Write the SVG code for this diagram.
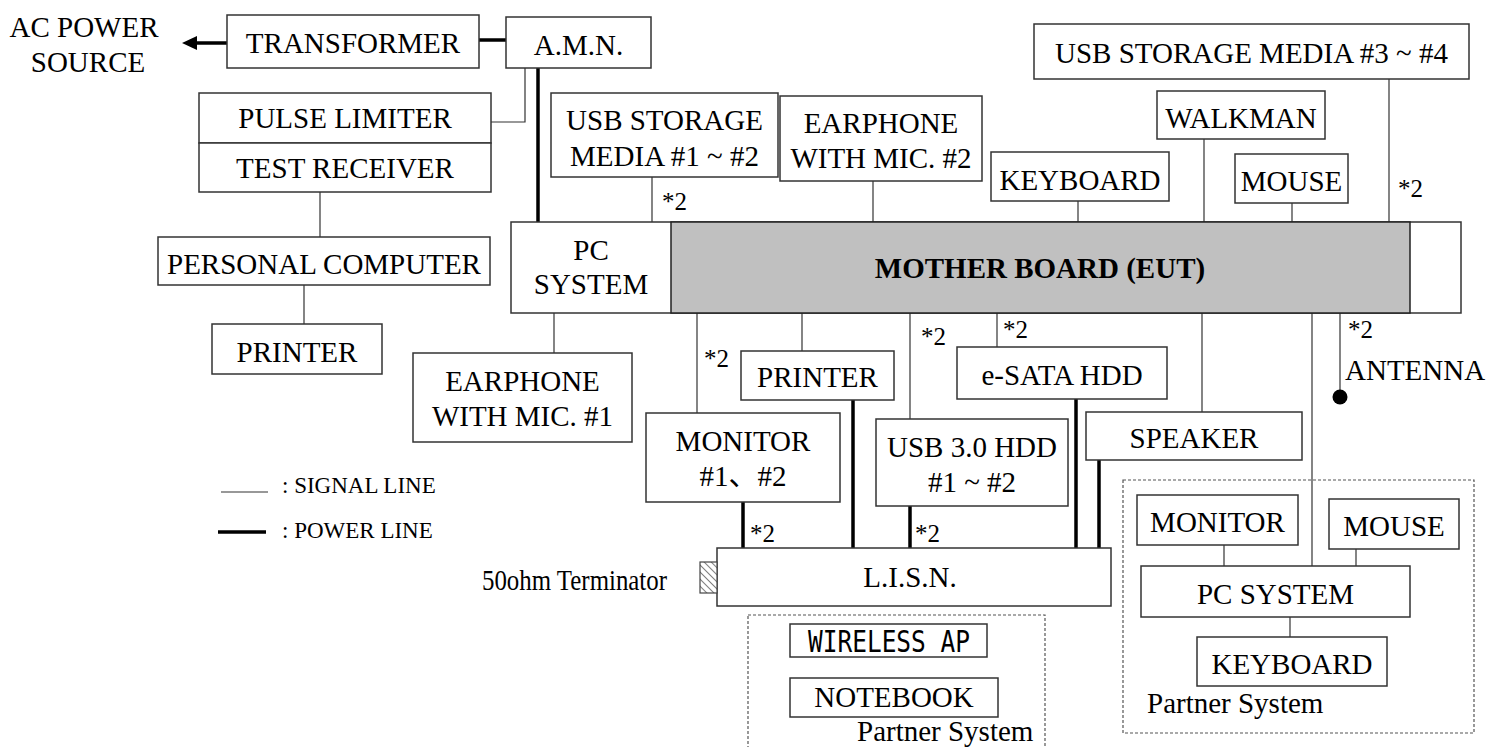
<svg xmlns="http://www.w3.org/2000/svg" width="1488" height="747" viewBox="0 0 1488 747">
<style>
text{font-family:"Liberation Serif","Noto Sans CJK SC",serif;font-size:29px;fill:#000}
.c{text-anchor:middle}
.b{fill:#fff;stroke:#333;stroke-width:1.5}
.g{fill:#c0c0c0;stroke:#222;stroke-width:1.5}
.s{stroke:#333;stroke-width:1.2;fill:none}
.p{stroke:#000;stroke-width:3.5;fill:none}
.d{fill:none;stroke:#555;stroke-width:1.2;stroke-dasharray:3,2}
.n{font-size:25px}
.l{font-size:23px}
.m{font-family:"DejaVu Sans Mono","Liberation Mono",monospace;font-size:30px}
</style>
<defs>
<pattern id="hatch" width="5" height="5" patternUnits="userSpaceOnUse" patternTransform="rotate(-45)">
<rect width="5" height="5" fill="#fff"/>
<line x1="0" y1="0" x2="0" y2="5" stroke="#555" stroke-width="1.5"/>
</pattern>
</defs>
<g id="connectors">
<polyline class="s" points="491,122 525,122 525,68"/>
<line class="s" x1="320" y1="192" x2="320" y2="237"/>
<line class="s" x1="304" y1="285" x2="304" y2="324"/>
<line class="s" x1="652" y1="177" x2="652" y2="222"/>
<line class="s" x1="873" y1="181" x2="873" y2="222"/>
<line class="s" x1="1078" y1="201" x2="1078" y2="222"/>
<line class="s" x1="1204" y1="139" x2="1204" y2="222"/>
<line class="s" x1="1292" y1="203" x2="1292" y2="222"/>
<line class="s" x1="1389" y1="79" x2="1389" y2="222"/>
<line class="s" x1="554" y1="313" x2="554" y2="353"/>
<line class="s" x1="697" y1="313" x2="697" y2="413"/>
<line class="s" x1="802" y1="313" x2="802" y2="351"/>
<line class="s" x1="910" y1="313" x2="910" y2="419"/>
<line class="s" x1="997" y1="313" x2="997" y2="347"/>
<line class="s" x1="1202" y1="313" x2="1202" y2="412"/>
<line class="s" x1="1312" y1="313" x2="1312" y2="566"/>
<line class="s" x1="1340" y1="313" x2="1340" y2="397" stroke="#999"/>
<circle cx="1340" cy="397" r="7.5" fill="#000"/>
<line class="s" x1="1224" y1="545" x2="1224" y2="566"/>
<line class="s" x1="1356" y1="549" x2="1356" y2="566"/>
<line class="s" x1="1290" y1="617" x2="1290" y2="637"/>
<line class="p" x1="479" y1="40" x2="506" y2="40"/>
<line class="p" x1="538" y1="68" x2="538" y2="222"/>
<line class="p" x1="743" y1="502" x2="743" y2="548"/>
<line class="p" x1="853" y1="400" x2="853" y2="548"/>
<line class="p" x1="910" y1="506" x2="910" y2="548"/>
<line class="p" x1="1076" y1="399" x2="1076" y2="548"/>
<line class="p" x1="1099" y1="460" x2="1099" y2="548"/>
<line class="p" x1="227" y1="43" x2="194" y2="43"/>
<polygon points="182,43 197,36 197,50" fill="#000"/>
</g>
<g id="ac-power"><text class="c" x="84" y="37">AC POWER</text><text class="c" x="88" y="72">SOURCE</text></g>
<g id="transformer"><rect class="b" x="227" y="15" width="252" height="53"/><text class="c" x="353" y="53">TRANSFORMER</text></g>
<g id="amn"><rect class="b" x="506" y="17" width="145" height="51"/><text class="c" x="578.5" y="55">A.M.N.</text></g>
<g id="pulse-limiter"><rect class="b" x="199" y="93" width="292" height="50"/><text class="c" x="345" y="128">PULSE LIMITER</text></g>
<g id="test-receiver"><rect class="b" x="199" y="143" width="292" height="49"/><text class="c" x="345" y="178">TEST RECEIVER</text></g>
<g id="personal-computer"><rect class="b" x="158" y="237" width="332" height="48"/><text class="c" x="324" y="274">PERSONAL COMPUTER</text></g>
<g id="printer-left"><rect class="b" x="212" y="324" width="170" height="50"/><text class="c" x="297" y="362">PRINTER</text></g>
<g id="usb-storage-1-2"><rect class="b" x="551" y="93" width="227" height="84"/><text class="c" x="664.5" y="130">USB STORAGE</text><text class="c" x="664.5" y="166">MEDIA #1 ~ #2</text></g>
<g id="earphone-2"><rect class="b" x="780" y="96" width="202" height="85"/><text class="c" x="881" y="133">EARPHONE</text><text class="c" x="881" y="168">WITH MIC. #2</text></g>
<g id="keyboard"><rect class="b" x="991" y="152" width="178" height="49"/><text class="c" x="1080" y="190">KEYBOARD</text></g>
<g id="walkman"><rect class="b" x="1157" y="91" width="168" height="48"/><text class="c" x="1241" y="128">WALKMAN</text></g>
<g id="mouse"><rect class="b" x="1235" y="154" width="113" height="49"/><text class="c" x="1291.5" y="191">MOUSE</text></g>
<g id="usb-storage-3-4"><rect class="b" x="1034" y="24" width="435" height="55"/><text class="c" x="1251.5" y="63">USB STORAGE MEDIA #3 ~ #4</text></g>
<g id="pc-system"><rect class="b" x="511" y="222" width="950" height="91"/><text class="c" x="591" y="260">PC</text><text class="c" x="591" y="294">SYSTEM</text></g>
<g id="mother-board"><rect class="g" x="671" y="222" width="739" height="91"/><text class="c" x="1040" y="278" font-weight="bold">MOTHER BOARD (EUT)</text></g>
<g id="earphone-1"><rect class="b" x="413" y="353" width="219" height="89"/><text class="c" x="522.5" y="391">EARPHONE</text><text class="c" x="522.5" y="426">WITH MIC. #1</text></g>
<g id="printer"><rect class="b" x="741" y="351" width="153" height="49"/><text class="c" x="817.5" y="387">PRINTER</text></g>
<g id="monitor"><rect class="b" x="646" y="413" width="194" height="89"/><text class="c" x="743" y="451">MONITOR</text><text class="c" x="743" y="486">#1、#2</text></g>
<g id="usb-hdd"><rect class="b" x="876" y="419" width="192" height="87"/><text class="c" x="972" y="457">USB 3.0 HDD</text><text class="c" x="972" y="492">#1 ~ #2</text></g>
<g id="esata-hdd"><rect class="b" x="957" y="347" width="210" height="52"/><text class="c" x="1062" y="385">e-SATA HDD</text></g>
<g id="speaker"><rect class="b" x="1086" y="412" width="216" height="48"/><text class="c" x="1194" y="448">SPEAKER</text></g>
<g id="lisn"><rect class="b" x="717" y="548" width="394" height="58"/><text class="c" x="910" y="587">L.I.S.N.</text></g>
<g id="terminator"><rect x="700" y="562" width="17" height="31" fill="url(#hatch)" stroke="#444" stroke-width="1.2"/><text x="482" y="590" font-size="24" textLength="185" lengthAdjust="spacingAndGlyphs">50ohm Terminator</text></g>
<g id="partner-left"><rect class="d" x="748" y="615" width="297" height="150"/>
<rect class="b" x="790" y="624" width="197" height="33"/><text class="c m" x="889" y="652" textLength="162" lengthAdjust="spacingAndGlyphs">WIRELESS AP</text>
<rect class="b" x="790" y="678" width="208" height="39"/><text class="c" x="894" y="707">NOTEBOOK</text>
<text x="857" y="741">Partner System</text></g>
<g id="partner-right"><rect class="d" x="1123" y="480" width="351" height="253"/>
<rect class="b" x="1137" y="495" width="161" height="50"/><text class="c" x="1217.5" y="532">MONITOR</text>
<rect class="b" x="1329" y="499" width="130" height="50"/><text class="c" x="1394" y="536">MOUSE</text>
<rect class="b" x="1141" y="566" width="269" height="51"/><text class="c" x="1275.5" y="604">PC SYSTEM</text>
<rect class="b" x="1197" y="637" width="190" height="49"/><text class="c" x="1292" y="674">KEYBOARD</text>
<text x="1147" y="713">Partner System</text></g>
<g id="notes">
<text class="n" x="662" y="210">*2</text>
<text class="n" x="1398" y="197">*2</text>
<text class="n" x="704" y="367">*2</text>
<text class="n" x="750" y="542">*2</text>
<text class="n" x="921" y="345">*2</text>
<text class="n" x="1003" y="338">*2</text>
<text class="n" x="915" y="542">*2</text>
<text class="n" x="1348" y="338">*2</text>
<text x="1345" y="380">ANTENNA</text>
</g>
<g id="legend">
<line x1="221" y1="492" x2="268" y2="492" stroke="#333" stroke-width="1.2"/>
<text class="l" x="282" y="493">: SIGNAL LINE</text>
<line x1="218" y1="532" x2="266" y2="532" stroke="#000" stroke-width="3.5"/>
<text class="l" x="282" y="538">: POWER LINE</text>
</g>
</svg>
